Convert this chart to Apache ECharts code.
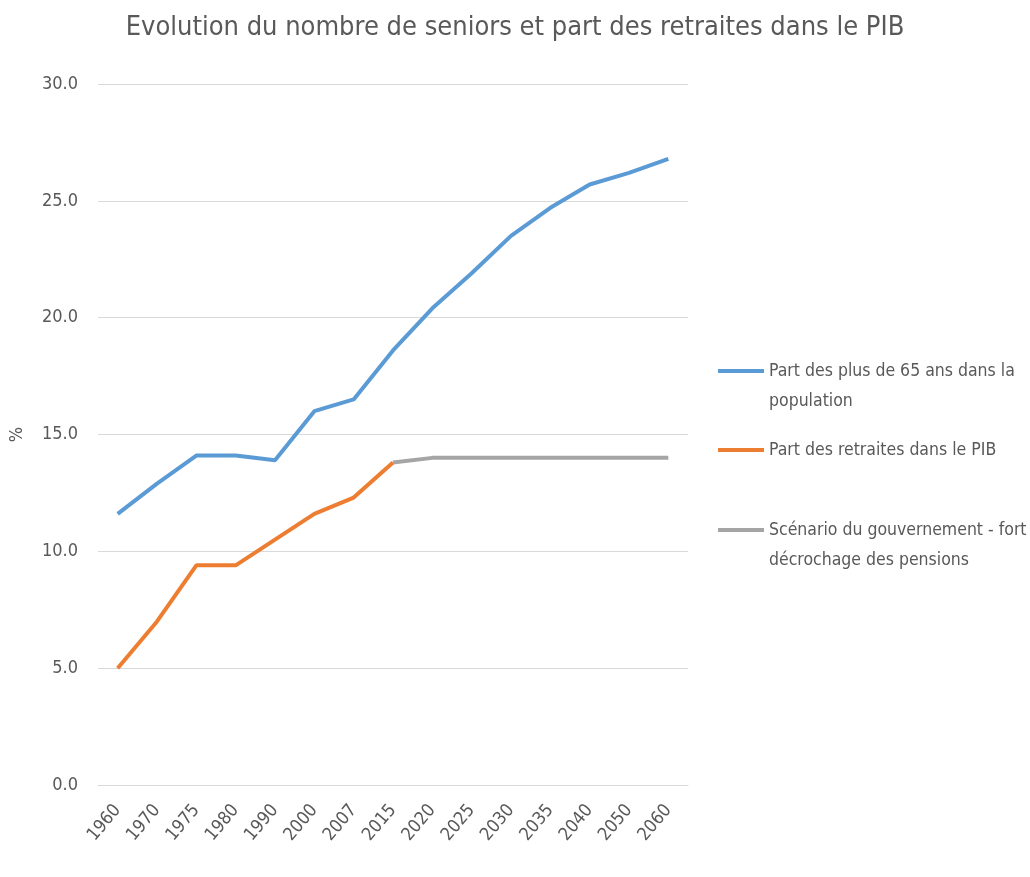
<!DOCTYPE html>
<html>
<head>
<meta charset="utf-8">
<script src="https://cdn.jsdelivr.net/npm/echarts@6/dist/echarts.min.js"></script>
<style>html,body{margin:0;padding:0;background:#fff;}#c{width:1030px;height:877px;}</style>
</head>
<body>
<div id="c"></div>
<script>
const categories = ['1960','1970','1975','1980','1990','2000','2007','2015','2020','2025','2030','2035','2040','2050','2060'];
const seniors = [11.6, 12.9, 14.1, 14.1, 13.9, 16.0, 16.5, 18.6, 20.4, 21.9, 23.5, 24.7, 25.7, 26.2, 26.8];
const retraites = [5.0, 7.0, 9.4, 9.4, 10.5, 11.6, 12.3, 13.8, null, null, null, null, null, null, null];
const scenario = [null, null, null, null, null, null, null, 13.8, 14.0, 14.0, 14.0, 14.0, 14.0, 14.0, 14.0];
const yTicks = [0, 5, 10, 15, 20, 25, 30];
const names = ['Part des plus de 65 ans dans la population', 'Part des retraites dans le PIB', 'Scénario du gouvernement - fort décrochage des pensions'];
const legendLabels = ['\nPart des plus de 65 ans dans la\npopulation', 'Part des retraites dans le PIB', '\nScénario du gouvernement - fort\ndécrochage des pensions'];
const colors = ['#5B9BD5', '#ED7D31', '#A5A5A5'];

const FONT = '"Liberation Sans Narrow", "DejaVu Sans Condensed", sans-serif';
const chart = echarts.init(document.getElementById('c'), null, {renderer: 'canvas'});

function legendFor(i, top) {
  return {
    data: [names[i]],
    left: 713,
    top: top,
    orient: 'vertical',
    icon: 'rect',
    itemWidth: 46,
    itemHeight: 4,
    formatter: () => legendLabels[i],
    textStyle: {fontFamily: FONT, fontSize: 17.5, color: '#595959', lineHeight: 30}
  };
}

chart.setOption({
  animation: false,
  backgroundColor: '#ffffff',
  title: {
    text: 'Evolution du nombre de seniors et part des retraites dans le PIB',
    left: 'center',
    top: 9,
    textStyle: {fontFamily: FONT, fontSize: 27, fontWeight: 'normal', color: '#595959'}
  },
  legend: [legendFor(0, 321), legendFor(1, 430), legendFor(2, 480)],
  grid: {left: 94, top: 84, width: 594, height: 701, containLabel: false},
  xAxis: {
    type: 'category',
    data: categories,
    boundaryGap: true,
    axisLine: {show: true, lineStyle: {color: '#D9D9D9', width: 1}},
    axisTick: {show: false},
    axisLabel: {rotate: 50, fontFamily: FONT, fontSize: 18, color: '#595959', margin: 22}
  },
  yAxis: {
    type: 'value',
    min: 0, max: 30, interval: 5,
    name: '%',
    nameLocation: 'middle',
    nameGap: 72,
    nameTextStyle: {fontFamily: FONT, fontSize: 18, color: '#595959'},
    axisLine: {show: false},
    axisTick: {show: false},
    splitLine: {lineStyle: {color: '#D9D9D9', width: 1}},
    axisLabel: {fontFamily: FONT, fontSize: 18, color: '#595959', margin: 20,
      formatter: v => yTicks.includes(v) ? v.toFixed(1) : ''}
  },
  series: [
    {name: names[0], type: 'line', data: seniors, symbol: 'none', lineStyle: {color: colors[0], width: 4}, itemStyle: {color: colors[0]}},
    {name: names[1], type: 'line', data: retraites, symbol: 'none', lineStyle: {color: colors[1], width: 4}, itemStyle: {color: colors[1]}},
    {name: names[2], type: 'line', data: scenario, symbol: 'none', lineStyle: {color: colors[2], width: 4}, itemStyle: {color: colors[2]}}
  ]
});
</script>
</body>
</html>
